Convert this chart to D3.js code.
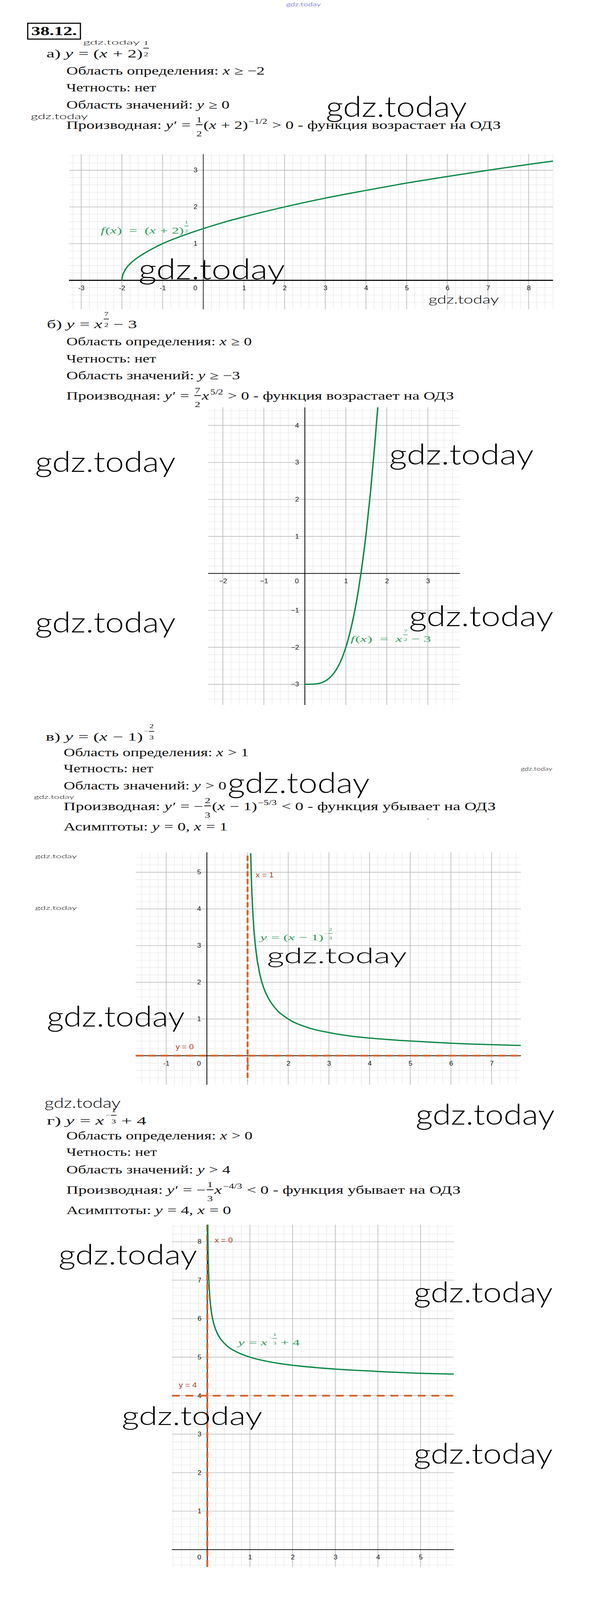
<!DOCTYPE html>
<html>
<head>
<meta charset="utf-8">
<script src="https://cdn.jsdelivr.net/npm/d3@7"></script>
<style>
  html, body { margin: 0; padding: 0; background: #fff; overflow: hidden; }
  svg { display: block; }
  svg text { white-space: pre; }
</style>
</head>
<body>
<script>
// ---- values

// а) y = (x+2)^(1/2)
var xTicksA = [-3, -2, -1, 0, 1, 2, 3, 4, 5, 6, 7, 8];
var yTicksA = [1, 2, 3];
var curveA = [[-2, 0], [-1.998, 0.045], [-1.99, 0.1], [-1.95, 0.22], [-1.9, 0.32], [-1.8, 0.45], [-1.6, 0.63],
  [-1.4, 0.77], [-1.2, 0.89], [-1, 1], [-0.5, 1.22], [0, 1.41], [0.5, 1.58], [1, 1.73], [2, 2], [3, 2.24],
  [4, 2.45], [5, 2.65], [6, 2.83], [7, 3], [8, 3.16], [8.6, 3.25]];

// б) y = x^(7/2) - 3
var xTicksB = [-2, -1, 0, 1, 2, 3];
var yTicksB = [-3, -2, -1, 1, 2, 3, 4];
var curveB = [[0, -3], [0.2, -2.996], [0.3, -2.985], [0.4, -2.96], [0.5, -2.91], [0.6, -2.83], [0.7, -2.71],
  [0.8, -2.54], [0.9, -2.31], [1, -2], [1.1, -1.6], [1.2, -1.11], [1.3, -0.5], [1.37, 0.01], [1.4, 0.25],
  [1.5, 1.13], [1.6, 2.18], [1.7, 3.41], [1.78, 4.51]];

// в) y = (x-1)^(-2/3)
var xTicksC = [-1, 0, 1, 2, 3, 4, 5, 6, 7];
var yTicksC = [1, 2, 3, 4, 5];
var vAsymC = [1];
var hAsymC = [0];
var curveC = [[1.077, 5.52], [1.08, 5.39], [1.1, 4.64], [1.15, 3.54], [1.2, 2.92], [1.3, 2.23], [1.4, 1.84],
  [1.5, 1.59], [1.7, 1.27], [2, 1], [2.5, 0.76], [3, 0.63], [3.5, 0.54], [4, 0.48], [5, 0.4], [6, 0.34],
  [7, 0.3], [7.72, 0.28]];

// г) y = x^(-1/3) + 4
var xTicksD = [0, 1, 2, 3, 4, 5];
var yTicksD = [1, 2, 3, 4, 5, 6, 7, 8];
var vAsymD = [0];
var hAsymD = [4];
var curveD = [[0.0114, 8.44], [0.015, 8.05], [0.02, 7.68], [0.03, 7.22], [0.05, 6.71], [0.08, 6.32], [0.1, 6.15],
  [0.15, 5.88], [0.2, 5.71], [0.3, 5.49], [0.4, 5.36], [0.5, 5.26], [0.7, 5.13], [1, 5], [1.5, 4.87],
  [2, 4.79], [3, 4.69], [4, 4.63], [5, 4.58], [5.78, 4.56]];

// ---- page text (segments: plain string, {i} italic, {sup}, {frac}, {sfrac} exponent fraction)
var textA = [
  ['а) ', {i: 'y'}, ' = (', {i: 'x'}, ' + 2)', {sfrac: ['1', '2']}],
  ['Область определения: ', {i: 'x'}, ' ≥ −2'],
  ['Четность: нет'],
  ['Область значений: ', {i: 'y'}, ' ≥ 0'],
  ['Производная: ', {i: 'y'}, '′ = ', {frac: ['1', '2']}, '(', {i: 'x'}, ' + 2)', {sup: '−1/2'}, ' > 0 - функция возрастает на ОДЗ']
];
var textB = [
  ['б) ', {i: 'y'}, ' = ', {i: 'x'}, {sfrac: ['7', '2']}, ' − 3'],
  ['Область определения: ', {i: 'x'}, ' ≥ 0'],
  ['Четность: нет'],
  ['Область значений: ', {i: 'y'}, ' ≥ −3'],
  ['Производная: ', {i: 'y'}, '′ = ', {frac: ['7', '2']}, {i: 'x'}, {sup: '5/2'}, ' > 0 - функция возрастает на ОДЗ']
];
var textC = [
  ['в) ', {i: 'y'}, ' = (', {i: 'x'}, ' − 1)', {sfrac: ['2', '3'], neg: true}],
  ['Область определения: ', {i: 'x'}, ' > 1'],
  ['Четность: нет'],
  ['Область значений: ', {i: 'y'}, ' > 0'],
  ['Производная: ', {i: 'y'}, '′ = −', {frac: ['2', '3']}, '(', {i: 'x'}, ' − 1)', {sup: '−5/3'}, ' < 0 - функция убывает на ОДЗ'],
  ['Асимптоты: ', {i: 'y'}, ' = 0, ', {i: 'x'}, ' = 1']
];
var textD = [
  ['г) ', {i: 'y'}, ' = ', {i: 'x'}, {sfrac: ['1', '3'], neg: true}, ' + 4'],
  ['Область определения: ', {i: 'x'}, ' > 0'],
  ['Четность: нет'],
  ['Область значений: ', {i: 'y'}, ' > 4'],
  ['Производная: ', {i: 'y'}, '′ = −', {frac: ['1', '3']}, {i: 'x'}, {sup: '−4/3'}, ' < 0 - функция убывает на ОДЗ'],
  ['Асимптоты: ', {i: 'y'}, ' = 4, ', {i: 'x'}, ' = 0']
];
var legendA = [{i: 'f'}, '(', {i: 'x'}, ')  =  (', {i: 'x'}, ' + 2)', {sfrac: ['1', '2']}];
var legendB = [{i: 'f'}, '(', {i: 'x'}, ')  =  ', {i: 'x'}, {sfrac: ['7', '2']}, ' − 3'];
var legendC = [{i: 'y'}, ' = (', {i: 'x'}, ' − 1)', {sfrac: ['2', '3'], neg: true}];
var legendD = [{i: 'y'}, ' = ', {i: 'x'}, {sfrac: ['1', '3'], neg: true}, ' + 4'];

//the page is laid out in reference pixels and fitted to whatever the window gives
var W = 1532, H = 4543;
var vw = window.innerWidth || W, vh = window.innerHeight || H;
var svg = d3.select('body').append('svg')
  .attr('width', vw)
  .attr('height', vh)
  .attr('viewBox', '0 0 ' + W + ' ' + H)
  .attr('preserveAspectRatio', 'none');

var SERIF = '"Liberation Serif", "Times New Roman", serif';
var SANS = '"Liberation Sans", Arial, sans-serif';

//draws one line of mixed text and formula, then stretches it to the measured width
function mathLine(segs, x0, base, size, width, color) {
  var g = svg.append('g').attr('fill', color || '#111').attr('font-family', SERIF);
  var cx = x0;
  var put = function(str, x, y, fs, italic, anchor) {
    var t = g.append('text').attr('x', x).attr('y', y).attr('font-size', fs)
      .attr('font-family', SERIF)
      .attr('font-style', italic ? 'italic' : null)
      .attr('text-anchor', anchor || null)
      .text(str);
    return t.node().getComputedTextLength();
  };
  var bar = function(xa, xb, yy, sw) {
    g.append('line').attr('x1', xa).attr('x2', xb).attr('y1', yy).attr('y2', yy)
      .attr('stroke', color || '#111').attr('stroke-width', sw);
  };
  segs.forEach(function(s) {
    if (typeof s === 'string') {
      cx += put(s, cx, base, size, false);
    } else if (s.i) {
      cx += put(s.i, cx, base, size, true) + size * 0.04;
    } else if (s.sup) {
      cx += put(s.sup, cx + size * 0.04, base - size * 0.45, size * 0.62, false) + size * 0.08;
    } else if (s.frac) {
      var fs = size * 0.68, w = fs * 0.6, p = size * 0.06;
      put(s.frac[0], cx + p + w / 2, base - size * 0.6, fs, false, 'middle');
      put(s.frac[1], cx + p + w / 2, base + size * 0.66, fs, false, 'middle');
      bar(cx + p, cx + p + w, base - size * 0.37, size * 0.07);
      cx += w + 2 * p;
    } else if (s.sfrac) {
      var sf = size * 0.47, sw = sf * 0.62;
      cx += size * 0.04;
      if (s.neg) {
        cx += put('−', cx, base - size * 0.82 + sf * 0.3, sf, false) + size * 0.02;
      }
      put(s.sfrac[0], cx + sw / 2, base - size * 1.1, sf, false, 'middle');
      put(s.sfrac[1], cx + sw / 2, base - size * 0.1, sf, false, 'middle');
      bar(cx, cx + sw, base - size * 0.82, size * 0.06);
      cx += sw;
    }
  });
  var k = width / (cx - x0);
  g.attr('transform', 'translate(' + x0 + ',0) scale(' + k + ',1) translate(' + (-x0) + ',0)');
  return g;
}

//watermarks are plain text stretched to the width seen in the picture
function watermark(x, y, w, fs, color) {
  svg.append('text')
    .attr('x', x).attr('y', y)
    .attr('font-family', 'Lato, "DejaVu Sans", sans-serif')
    .attr('font-weight', 300)
    .attr('font-size', fs)
    .attr('textLength', w)
    .attr('lengthAdjust', 'spacingAndGlyphs')
    .attr('fill', color || '#000')
    .text('gdz.today');
}

//one coordinate plane with grid, axes, ticks, curve
function drawGraph(cfg) {
  var u = cfg.unit;
  var x = d3.scaleLinear().domain(cfg.xDom)
    .range([cfg.x0 + cfg.xDom[0] * u, cfg.x0 + cfg.xDom[1] * u]);
  var y = d3.scaleLinear().domain(cfg.yDom)
    .range([cfg.y0 - cfg.yDom[0] * u, cfg.y0 - cfg.yDom[1] * u]);
  var g = svg.append('g');
  var id = 'clip' + cfg.name;
  g.append('clipPath').attr('id', id).append('rect')
    .attr('x', x.range()[0]).attr('y', y.range()[1])
    .attr('width', x.range()[1] - x.range()[0])
    .attr('height', y.range()[0] - y.range()[1]);

  var isMajor = function(d) { return Math.abs(d - Math.round(d)) < 1e-6; };
  var minorX = d3.range(Math.ceil(cfg.xDom[0] * 5), Math.floor(cfg.xDom[1] * 5) + 1).map(function(d) { return d / 5; });
  var minorY = d3.range(Math.ceil(cfg.yDom[0] * 5), Math.floor(cfg.yDom[1] * 5) + 1).map(function(d) { return d / 5; });
  var grid = g.append('g');
  [false, true].forEach(function(major) {
    grid.selectAll(null).data(minorX.filter(function(d) { return isMajor(d) === major; })).enter().append('line')
      .attr('x1', x).attr('x2', x).attr('y1', y.range()[0]).attr('y2', y.range()[1])
      .attr('stroke', major ? '#bdbdbd' : '#e6e6e6').attr('stroke-width', major ? 1.8 : 1.2);
    grid.selectAll(null).data(minorY.filter(function(d) { return isMajor(d) === major; })).enter().append('line')
      .attr('y1', y).attr('y2', y).attr('x1', x.range()[0]).attr('x2', x.range()[1])
      .attr('stroke', major ? '#bdbdbd' : '#e6e6e6').attr('stroke-width', major ? 1.8 : 1.2);
  });

  //axes lines
  g.append('line').attr('x1', x.range()[0]).attr('x2', x.range()[1]).attr('y1', y(0)).attr('y2', y(0))
    .attr('stroke', '#000').attr('stroke-width', cfg.xw);
  g.append('line').attr('x1', x(0)).attr('x2', x(0)).attr('y1', y.range()[0]).attr('y2', y.range()[1])
    .attr('stroke', '#000').attr('stroke-width', cfg.yw);

  //tick labels through d3 axes
  var fmt = function(d) { return d < 0 ? cfg.minus + Math.abs(d) : String(d); };
  var ax = g.append('g').attr('transform', 'translate(0,' + y(0) + ')')
    .call(d3.axisBottom(x).tickValues(cfg.xTicks).tickSize(0).tickPadding(15).tickFormat(fmt));
  var ay = g.append('g').attr('transform', 'translate(' + x(0) + ',0)')
    .call(d3.axisLeft(y).tickValues(cfg.yTicks).tickSize(0).tickPadding(15).tickFormat(fmt));
  [ax, ay].forEach(function(a) {
    a.select('.domain').remove();
    a.selectAll('text').attr('font-family', SANS).attr('font-size', 18).attr('fill', '#222');
  });
  ax.selectAll('.tick').filter(function(d) { return d === 0; }).select('text').attr('dx', -21);

  //asymptotes
  var dash = g.append('g').attr('clip-path', 'url(#' + id + ')')
    .attr('stroke', '#d4642c').attr('stroke-width', 5).attr('fill', 'none');
  dash.selectAll(null).data(cfg.hAsym || []).enter().append('line')
    .attr('x1', x.range()[0]).attr('x2', x.range()[1]).attr('y1', y).attr('y2', y)
    .attr('stroke-dasharray', cfg.hDash);
  dash.selectAll(null).data(cfg.vAsym || []).enter().append('line')
    .attr('y1', y(cfg.vTop)).attr('y2', y(cfg.vBottom)).attr('x1', x).attr('x2', x)
    .attr('stroke-dasharray', cfg.vDash);

  //the function graph
  var line = d3.line().x(function(d) { return x(d[0]); }).y(function(d) { return y(d[1]); })
    .curve(d3.curveMonotoneX);
  g.append('path').datum(cfg.curve).attr('clip-path', 'url(#' + id + ')')
    .attr('d', line).attr('fill', 'none').attr('stroke', '#0d8a47').attr('stroke-width', 3.6)
    .attr('stroke-linejoin', 'round');
  return {x: x, y: y};
}

function redLabel(str, x, y) {
  svg.append('text').attr('x', x).attr('y', y).attr('font-size', 21).attr('fill', '#b5391f')
    .attr('font-family', SANS).text(str);
}

// ---- header
svg.append('rect').attr('x', 71).attr('y', 66).attr('width', 135).attr('height', 45)
  .attr('fill', 'none').attr('stroke', '#000').attr('stroke-width', 3);
svg.append('text').attr('x', 80).attr('y', 100).attr('font-size', 34).attr('font-weight', 'bold')
  .attr('font-family', SERIF)
  .attr('textLength', 117).attr('lengthAdjust', 'spacingAndGlyphs').text('38.12.');
watermark(733, 18, 89, 15, '#3a3ad6');

// ---- а)
var lineSize = 32;
mathLine(textA[0], 119, 163, lineSize, 262);
mathLine(textA[1], 170, 212, lineSize, 508);
mathLine(textA[2], 170, 260, lineSize, 230);
mathLine(textA[3], 170, 308, lineSize, 418);
mathLine(textA[4], 170, 366, lineSize, 1113);

drawGraph({name: 'A', x0: 520.7, y0: 796, unit: 104.2, xDom: [-3.3, 8.6], yDom: [-0.79, 3.44],
  xTicks: xTicksA, yTicks: yTicksA, curve: curveA, xw: 3, yw: 1.5, minus: '-'});
mathLine(legendA, 258, 663, 26, 225, '#2f9a5c');

// ---- б)
mathLine(textB[0], 120, 932, lineSize, 231);
mathLine(textB[1], 170, 981, lineSize, 475);
mathLine(textB[2], 170, 1029, lineSize, 230);
mathLine(textB[3], 170, 1077, lineSize, 445);
mathLine(textB[4], 170, 1135, lineSize, 993);

drawGraph({name: 'B', x0: 781, y0: 1628, unit: 105, xDom: [-2.36, 3.78], yDom: [-3.56, 4.49],
  xTicks: xTicksB, yTicks: yTicksB, curve: curveB, xw: 2, yw: 2, minus: '−'});
mathLine(legendB, 898, 1822, 24, 206, '#2f9a5c');

// ---- в)
mathLine(textC[0], 117, 2103, lineSize, 278);
mathLine(textC[1], 163, 2147, lineSize, 474);
mathLine(textC[2], 163, 2193, lineSize, 230);
mathLine(textC[3], 163, 2242, lineSize, 417);
mathLine(textC[4], 163, 2300, lineSize, 1107);
mathLine(textC[5], 163, 2358, lineSize, 420);
svg.append('text').attr('x', 1095).attr('y', 2335).attr('font-size', 16).attr('font-family', SERIF)
  .attr('fill', '#333').text('ʹ');

drawGraph({name: 'C', x0: 530, y0: 2997.5, unit: 104.2, xDom: [-1.75, 7.72], yDom: [-0.79, 5.54],
  xTicks: xTicksC, yTicks: yTicksC, curve: curveC, xw: 2, yw: 2, minus: '-',
  hAsym: hAsymC, vAsym: vAsymC, hDash: '20,12', vDash: '15,7', vTop: 5.45, vBottom: -0.68});
mathLine(legendC, 667, 2670, 24, 185, '#2f9a5c');
redLabel('x = 1', 655, 2491);
redLabel('y = 0', 450, 2979);

// ---- г)
mathLine(textD[0], 120, 3193, lineSize, 255);
mathLine(textD[1], 170, 3235, lineSize, 477);
mathLine(textD[2], 170, 3282, lineSize, 232);
mathLine(textD[3], 170, 3332, lineSize, 420);
mathLine(textD[4], 170, 3390, lineSize, 1010);
mathLine(textD[5], 170, 3447, lineSize, 422);

drawGraph({name: 'D', x0: 531, y0: 4400, unit: 109.3, xDom: [-0.83, 5.78], yDom: [-0.45, 8.44],
  xTicks: xTicksD, yTicks: yTicksD, curve: curveD, xw: 2, yw: 2, minus: '-',
  hAsym: hAsymD, vAsym: vAsymD, hDash: '20,15', vDash: '18,10', vTop: 8.44, vBottom: -0.45});
mathLine(legendD, 610, 3820, 24, 158, '#2f9a5c');
redLabel('x = 0', 550, 3528);
redLabel('y = 4', 458, 3940);

// ---- watermarks
watermark(213, 127, 145, 18);
watermark(79, 338, 146, 22);
watermark(835, 332, 361, 80);
watermark(355, 793, 375, 80);
watermark(1098, 862, 180, 33);
watermark(90, 1340, 360, 80);
watermark(997, 1319, 370, 80);
watermark(90, 1796, 360, 80);
watermark(1048, 1778, 370, 80);
watermark(1334, 2188, 81, 14);
watermark(87, 2268, 103, 16);
watermark(583, 2252, 364, 80);
watermark(90, 2437, 107, 16);
watermark(90, 2583, 107, 16);
watermark(684, 2735, 358, 62);
watermark(120, 2915, 353, 80);
watermark(114, 3145, 195, 40);
watermark(1065, 3193, 356, 80);
watermark(150, 3590, 355, 78);
watermark(1060, 3698, 356, 80);
watermark(312, 4046, 360, 75);
watermark(1060, 4156, 356, 80);
</script>
</body>
</html>
